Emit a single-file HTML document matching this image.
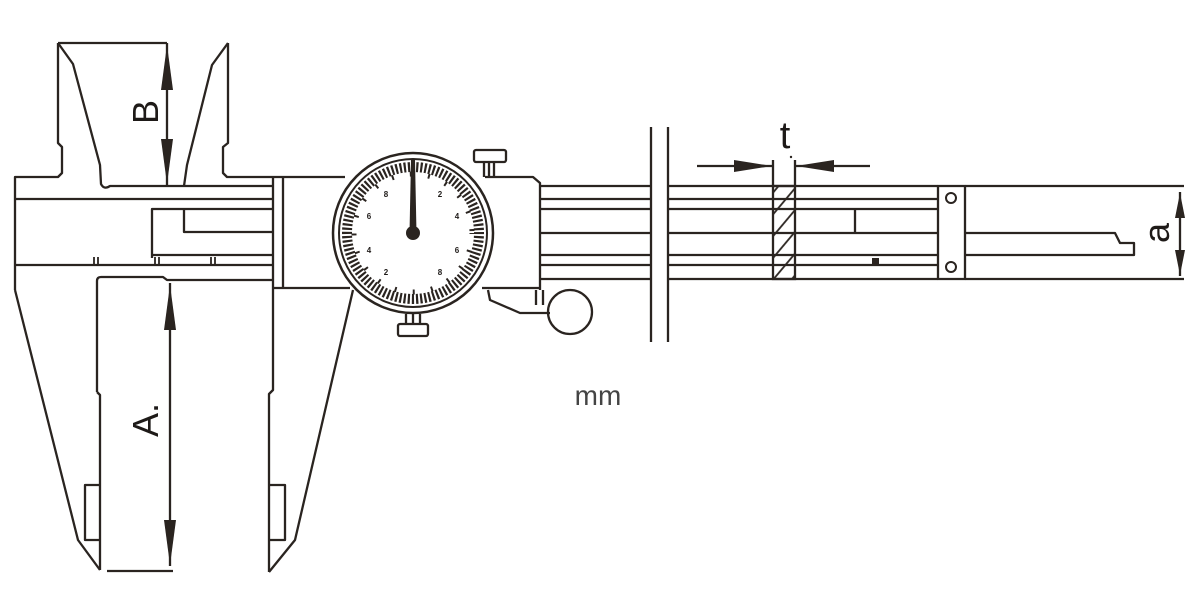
<!DOCTYPE html>
<html><head><meta charset="utf-8"><style>
html,body{margin:0;padding:0;background:#fff;width:1200px;height:600px;overflow:hidden}
svg{display:block}
text{font-family:"Liberation Sans",sans-serif;fill:#1e1a18}
</style></head><body>
<svg width="1200" height="600" viewBox="0 0 1200 600" xmlns="http://www.w3.org/2000/svg">
<defs>
<pattern id="h" width="14" height="14" patternUnits="userSpaceOnUse" patternTransform="rotate(40)">
<line x1="2" y1="0" x2="2" y2="14" stroke="#2a2420" stroke-width="1.8"/>
</pattern>
</defs>
<g fill="none" stroke="#2a2420" stroke-width="2.3" stroke-linejoin="round">
<path d="M58,43 L167,43"/>
<path d="M58,43 L58,143 L62,147 L62,173 L58,177 L15,177 L15,290"/>
<path d="M58,43 L73,64 L100,165 L101,184 Q104,190 110,186 L273,186"/>
<path d="M228,43 L228,143 L223,147 L223,173 L227,177 L273,177"/>
<path d="M228,43 L212,65 L187,165 L184,186"/>
<path d="M15,199 L273,199"/>
<path d="M152,258 L152,209 L273,209"/>
<path d="M184,209 L184,232 L273,232"/>
<path d="M152,255 L273,255"/>
<path d="M15,265 L273,265"/>
<path d="M94,257 L94,265 M98,257 L98,265 M155,257 L155,265 M159,257 L159,265 M211,257 L211,265 M215,257 L215,265" stroke-width="1.8"/>
<path d="M97,392 L97,281 Q97,277 101,277 L163,277 L167,280 L273,280"/>
<path d="M15,290 L78,540 L100,570"/>
<path d="M97,392 L100,395 L100,570"/>
<path d="M100,540 L85,540 L85,485 L100,485"/>
<path d="M107,571 L173,571"/>
<path d="M273,177 L273,288 M283,177 L283,288"/>
<path d="M273,177 L345,177 M273,288 L350,288"/>
<path d="M273,288 L273,390 L269,394 L269,572"/>
<path d="M353,290 L295,540 L269,572"/>
<path d="M269,540 L285,540 L285,485 L269,485"/>
<path d="M485,177 L533,177 L540,183 L540,290 M482,288 L540,288"/>
<path d="M488,290 L490,300 L520,313 L550,313"/>
<path d="M536,290 L536,305 M543,290 L543,305"/>
<circle cx="570" cy="312" r="22"/>
<rect x="474" y="150" width="32" height="12" rx="2"/>
<path d="M484,162 L484,177 M489,162 L489,177 M494,162 L494,177"/>
<rect x="398" y="324" width="30" height="12" rx="2"/>
<path d="M406,314 L406,324 M413,314 L413,324 M420,314 L420,324"/>
<path d="M540,186 L651,186 M540,199 L651,199 M540,209 L651,209 M540,233 L651,233 M540,255 L651,255 M540,265 L651,265 M540,279 L651,279"/>
<path d="M651,127 L651,342 M668,127 L668,342"/>
<path d="M668,186 L938,186 M668,199 L938,199 M668,209 L938,209 M668,233 L938,233 M668,255 L938,255 M668,265 L938,265 M668,279 L938,279"/>
<path d="M855,209 L855,233"/>
<rect x="938" y="186" width="27" height="93"/>
<path d="M965,186 L1184,186 M965,279 L1184,279"/>
<path d="M965,233 L1115,233 L1120,243 L1134,243 L1134,255 L965,255"/>
<path d="M773,160 L773,186 M795,160 L795,186"/>
<path d="M697,166 L773,166 M795,166 L870,166"/>
<path d="M167,43 L167,186"/>
<path d="M170,283 L170,566"/>
<path d="M1180,192 L1180,276"/>
</g>
<rect x="773" y="186" width="22" height="93" fill="url(#h)" stroke="#2a2420" stroke-width="2.3"/>
<g fill="#2a2420">
<polygon points="167,45 161,90 173,90"/>
<polygon points="167,184 161,139 173,139"/>
<polygon points="170,285 164,330 176,330"/>
<polygon points="170,565 164,520 176,520"/>
<polygon points="1180,193 1175,218 1185,218"/>
<polygon points="1180,275 1175,250 1185,250"/>
<polygon points="772,166 734,160 734,172"/>
<polygon points="796,166 834,160 834,172"/>
<rect x="872" y="258" width="7" height="7"/>
<circle cx="791" cy="157" r="1.2"/>
</g>
<circle cx="951" cy="198" r="5" fill="none" stroke="#2a2420" stroke-width="2"/>
<circle cx="951" cy="267" r="5" fill="none" stroke="#2a2420" stroke-width="2"/>
<circle cx="413" cy="233" r="80" fill="#fff" stroke="#2a2420" stroke-width="2.5"/>
<circle cx="413" cy="233" r="74" fill="none" stroke="#2a2420" stroke-width="2"/>
<circle cx="413" cy="233" r="66" fill="none" stroke="#2a2420" stroke-width="10" stroke-dasharray="2.2 1.947" stroke-dashoffset="1.1"/>
<circle cx="413" cy="233" r="59" fill="none" stroke="#2a2420" stroke-width="5" stroke-dasharray="2 16.38" stroke-dashoffset="1"/>
<g font-size="8" font-weight="bold" text-anchor="middle">
<text x="440" y="197">2</text><text x="457" y="219">4</text><text x="457" y="253">6</text><text x="440" y="275">8</text>
<text x="386" y="197">8</text><text x="369" y="219">6</text><text x="369" y="253">4</text><text x="386" y="275">2</text>
</g>
<polygon points="411,160 415,160 416.5,233 409.5,233" fill="#2a2420"/>
<circle cx="413" cy="233" r="7" fill="#2a2420"/>
<text x="0" y="0" font-size="36" transform="translate(158,112) rotate(-90)" text-anchor="middle">B</text>
<text x="0" y="0" font-size="36" transform="translate(158,420) rotate(-90)" text-anchor="middle">A.</text>
<text x="0" y="0" font-size="36" transform="translate(1169,233) rotate(-90)" text-anchor="middle">a</text>
<text x="785" y="148" font-size="38" text-anchor="middle">t</text>
<text x="598" y="405" font-size="28" text-anchor="middle" style="fill:#444">mm</text>
</svg>
</body></html>
